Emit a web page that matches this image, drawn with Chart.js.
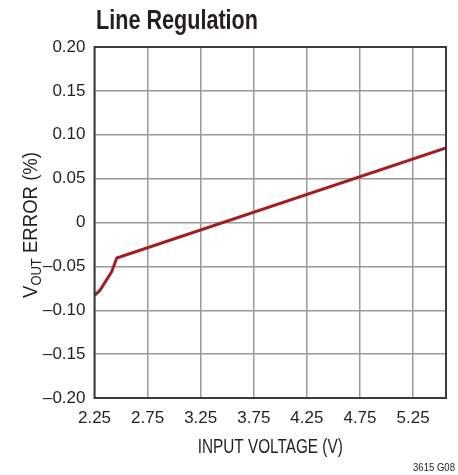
<!DOCTYPE html>
<html>
<head>
<meta charset="utf-8">
<script src="https://cdn.jsdelivr.net/npm/chart.js@4/dist/chart.umd.min.js"></script>
<style>
html,body{margin:0;padding:0;background:#fff;}
#wrap{position:relative;width:458px;height:475px;}
</style>
</head>
<body>
<div id="wrap"><canvas id="c" width="458" height="475"></canvas></div>
<script>
const FONT = "'Liberation Sans', Arial, Helvetica, sans-serif";
const titleText = "Line Regulation";
const xAxisTitle = "INPUT VOLTAGE (V)";
const yAxisTitleParts = ["V", "OUT", " ERROR (%)"];
const footnote = "3615 G08";

const inputVoltage = [2.25, 2.30, 2.41, 2.46, 5.56];
const voutError = [-0.083, -0.0775, -0.0566, -0.0405, 0.085];

const xTickValues = [2.25, 2.75, 3.25, 3.75, 4.25, 4.75, 5.25];
const xTickLabels = ["2.25", "2.75", "3.25", "3.75", "4.25", "4.75", "5.25"];
const yTickValues = [0.20, 0.15, 0.10, 0.05, 0, -0.05, -0.10, -0.15, -0.20];
const yTickLabels = ["0.20", "0.15", "0.10", "0.05", "0", "\u20130.05", "\u20130.10", "\u20130.15", "\u20130.20"];

const points = inputVoltage.map((x, i) => ({x: x, y: voutError[i]}));

function condensedText(ctx, text, x, y, font, targetWidth, align) {
  ctx.save();
  ctx.font = font;
  const w = ctx.measureText(text).width;
  const s = targetWidth / w;
  let left = x;
  if (align === 'center') left = x - targetWidth / 2;
  else if (align === 'right') left = x - targetWidth;
  ctx.translate(left, y);
  ctx.scale(s, 1);
  ctx.textAlign = 'left';
  ctx.fillText(text, 0, 0);
  ctx.restore();
}

const textPlugin = {
  id: 'textPlugin',
  afterDraw(chart) {
    const ctx = chart.ctx;
    const a = chart.chartArea;
    ctx.save();
    ctx.fillStyle = '#231f20';
    ctx.textBaseline = 'alphabetic';
    condensedText(ctx, titleText, 96, 29, "bold 27.5px " + FONT, 162, 'left');
    condensedText(ctx, xAxisTitle, (a.left + a.right) / 2, 452.7, "20px " + FONT, 145, 'center');
    condensedText(ctx, footnote, 455, 471, "11px " + FONT, 42, 'right');
    // y axis title with subscript
    ctx.translate(37, 225);
    ctx.rotate(-Math.PI / 2);
    const big = "20px " + FONT, small = "14px " + FONT;
    ctx.font = big; const w1 = ctx.measureText(yAxisTitleParts[0]).width;
    ctx.font = small; const w2 = ctx.measureText(yAxisTitleParts[1]).width;
    ctx.font = big; const w3 = ctx.measureText(yAxisTitleParts[2]).width;
    const total = w1 + w2 + w3;
    const s = 146 / total;
    ctx.scale(s, 1);
    let x0 = -total / 2;
    ctx.textAlign = 'left';
    ctx.font = big; ctx.fillText(yAxisTitleParts[0], x0, 0);
    ctx.font = small; ctx.fillText(yAxisTitleParts[1], x0 + w1, 4);
    ctx.font = big; ctx.fillText(yAxisTitleParts[2], x0 + w1 + w2, 0);
    ctx.restore();
    // border
    ctx.save();
    ctx.strokeStyle = '#3a3a3a';
    ctx.lineWidth = 2;
    ctx.strokeRect(a.left, a.top, a.right - a.left, a.bottom - a.top);
    ctx.restore();
  }
};

new Chart(document.getElementById('c'), {
  type: 'scatter',
  data: {
    datasets: [{
      data: points,
      showLine: true,
      borderColor: '#a51d24',
      borderWidth: 3,
      pointRadius: 0,
      tension: 0,
      fill: false
    }]
  },
  options: {
    responsive: false,
    animation: false,
    devicePixelRatio: 1,
    layout: {padding: {top: 47, right: 12, left: 0, bottom: 0}},
    plugins: {legend: {display: false}, tooltip: {enabled: false}, title: {display: false}},
    scales: {
      x: {
        type: 'linear',
        min: 2.25, max: 5.56,
        afterBuildTicks(s) { s.ticks = xTickValues.map(v => ({value: v})); },
        afterFit(s) { s.height = 77; },
        grid: {color: '#9a9a9a', lineWidth: 1.5, drawTicks: false},
        border: {display: false},
        ticks: {
          padding: 10,
          color: '#231f20',
          font: {family: FONT, size: 17},
          callback(v) { const i = xTickValues.findIndex(t => Math.abs(t - v) < 1e-9); return i >= 0 ? xTickLabels[i] : ''; },
          maxRotation: 0, autoSkip: false
        }
      },
      y: {
        type: 'linear',
        min: -0.20, max: 0.20,
        afterBuildTicks(s) { s.ticks = yTickValues.map(v => ({value: v})); },
        afterFit(s) { s.width = 94.5; },
        grid: {color: '#9a9a9a', lineWidth: 1.5, drawTicks: false},
        border: {display: false},
        ticks: {
          padding: 9,
          color: '#231f20',
          font: {family: FONT, size: 17},
          callback(v) { const i = yTickValues.findIndex(t => Math.abs(t - v) < 1e-9); return i >= 0 ? yTickLabels[i] : ''; },
          autoSkip: false
        }
      }
    }
  },
  plugins: [textPlugin]
});
</script>
</body>
</html>
